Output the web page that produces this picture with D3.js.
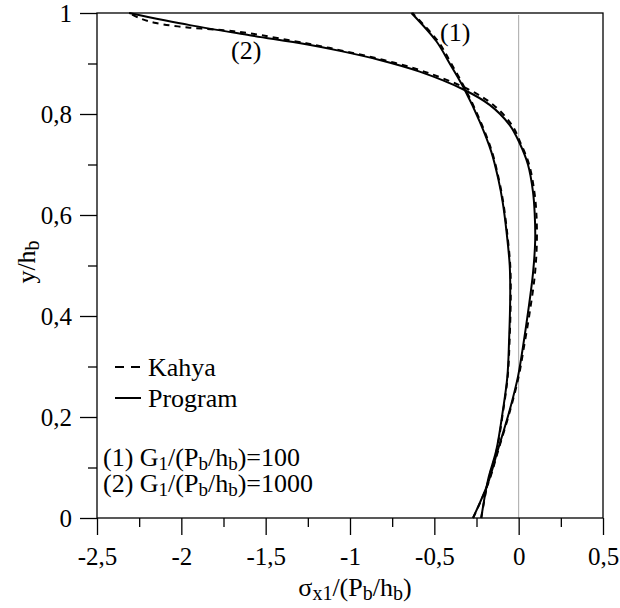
<!DOCTYPE html>
<html>
<head>
<meta charset="utf-8">
<script src="https://cdn.jsdelivr.net/npm/d3@7"></script>
<style>
  body { margin: 0; background: #fff; }
  svg { display: block; font-family: "Liberation Serif", "DejaVu Serif", serif; }
</style>
</head>
<body>
<svg width="620" height="608"></svg>
<script>
// ---- data: [sigma, y/hb] ----
const program1 = [[-0.222, 0], [-0.182, 0.075], [-0.132, 0.135], [-0.093, 0.214], [-0.067, 0.28],
  [-0.057, 0.35], [-0.050, 0.44], [-0.053, 0.50], [-0.073, 0.57], [-0.095, 0.626], [-0.12, 0.67],
  [-0.162, 0.725], [-0.231, 0.785], [-0.32, 0.848], [-0.409, 0.90], [-0.488, 0.944], [-0.636, 1.0]];
const kahya1 = [[-0.222, 0], [-0.180, 0.075], [-0.130, 0.135], [-0.091, 0.214], [-0.065, 0.28],
  [-0.054, 0.35], [-0.047, 0.44], [-0.050, 0.50], [-0.070, 0.57], [-0.092, 0.626], [-0.117, 0.67],
  [-0.158, 0.725], [-0.226, 0.785], [-0.314, 0.848], [-0.400, 0.90], [-0.478, 0.944], [-0.63, 1.0]];
const program2 = [[-0.271, 0], [-0.182, 0.069], [-0.123, 0.135], [-0.053, 0.214], [-0.004, 0.28],
  [0.026, 0.34], [0.055, 0.406], [0.085, 0.485], [0.098, 0.55], [0.095, 0.603], [0.085, 0.646],
  [0.055, 0.70], [0.006, 0.742], [-0.053, 0.778], [-0.172, 0.818], [-0.33, 0.849], [-0.587, 0.884],
  [-0.824, 0.907], [-1.06, 0.925], [-1.26, 0.938], [-1.595, 0.956], [-1.95, 0.976], [-2.31, 1.0]];
const kahya2 = [[-0.27, 0], [-0.18, 0.069], [-0.12, 0.135], [-0.05, 0.214], [0.0, 0.28],
  [0.032, 0.34], [0.065, 0.406], [0.097, 0.485], [0.108, 0.55], [0.105, 0.603], [0.093, 0.646],
  [0.062, 0.70], [0.012, 0.742], [-0.04, 0.778], [-0.15, 0.818], [-0.30, 0.849], [-0.56, 0.884],
  [-0.80, 0.907], [-1.04, 0.925], [-1.26, 0.94], [-1.60, 0.96], [-1.75, 0.966], [-1.95, 0.971],
  [-2.15, 0.98], [-2.25, 0.99], [-2.31, 1.0]];

const xMajor = [-2.5, -2, -1.5, -1, -0.5, 0, 0.5];
const xMinor = [-2.25, -1.75, -1.25, -0.75, -0.25, 0.25];
const yMajor = [0, 0.2, 0.4, 0.6, 0.8, 1];
const yMinor = [0.1, 0.3, 0.5, 0.7, 0.9];

const fmt = d => String(d).replace(".", ",");

const margin = { top: 13, right: 17, bottom: 90, left: 97 };
const width = 620, height = 608;

const x = d3.scaleLinear().domain([-2.5, 0.5]).range([margin.left, width - margin.right]);
const y = d3.scaleLinear().domain([0, 1]).range([height - margin.bottom, margin.top]);

const svg = d3.select("svg");

// zero line
svg.append("line")
  .attr("x1", x(0)).attr("x2", x(0))
  .attr("y1", y(1) + 2).attr("y2", y(0))
  .attr("stroke", "#a8a8a8").attr("stroke-width", 1);

// frame
svg.append("rect")
  .attr("x", x(-2.5)).attr("y", y(1))
  .attr("width", x(0.5) - x(-2.5)).attr("height", y(0) - y(1))
  .attr("fill", "none").attr("stroke", "#000").attr("stroke-width", 1.3);

// axes
const xAxis = g => g
  .attr("transform", `translate(0,${y(0)})`)
  .call(d3.axisBottom(x).tickValues(xMajor).tickSize(17).tickFormat(fmt))
  .call(g => g.select(".domain").remove())
  .call(g => g.selectAll("line").attr("stroke-width", 1.3))
  .call(g => g.selectAll("text").attr("dy", 0).attr("y", 47)
    .attr("font-size", 25).attr("font-family", "Liberation Serif"));

const xAxisMinor = g => g
  .attr("transform", `translate(0,${y(0)})`)
  .call(d3.axisBottom(x).tickValues(xMinor).tickSize(9).tickFormat(""))
  .call(g => g.select(".domain").remove())
  .call(g => g.selectAll("line").attr("stroke-width", 1.3));

const yAxis = g => g
  .attr("transform", `translate(${x(-2.5)},0)`)
  .call(d3.axisLeft(y).tickValues(yMajor).tickSize(17).tickFormat(fmt))
  .call(g => g.select(".domain").remove())
  .call(g => g.selectAll("line").attr("stroke-width", 1.3))
  .call(g => g.selectAll("text").attr("x", -25).attr("dy", "0.32em")
    .attr("font-size", 25).attr("font-family", "Liberation Serif"));

const yAxisMinor = g => g
  .attr("transform", `translate(${x(-2.5)},0)`)
  .call(d3.axisLeft(y).tickValues(yMinor).tickSize(9).tickFormat(""))
  .call(g => g.select(".domain").remove())
  .call(g => g.selectAll("line").attr("stroke-width", 1.3));

svg.append("g").call(xAxis);
svg.append("g").call(xAxisMinor);
svg.append("g").call(yAxis);
svg.append("g").call(yAxisMinor);

// curves
const line = d3.line()
  .x(d => x(d[0]))
  .y(d => y(d[1]))
  .curve(d3.curveCatmullRom.alpha(0.5));

const curves = [
  { data: kahya1, dash: "6,5" },
  { data: kahya2, dash: "6,5" },
  { data: program1, dash: null },
  { data: program2, dash: null }
];

svg.append("g")
  .selectAll("path")
  .data(curves)
  .join("path")
  .attr("d", d => line(d.data))
  .attr("fill", "none")
  .attr("stroke", "#000")
  .attr("stroke-width", 2)
  .attr("stroke-dasharray", d => d.dash);

// curve labels
svg.append("text").attr("x", 440).attr("y", 41).attr("font-size", 26).text("(1)");
svg.append("text").attr("x", 231).attr("y", 59).attr("font-size", 26).text("(2)");

// legend
const legend = svg.append("g");
legend.append("line")
  .attr("x1", 115).attr("x2", 141).attr("y1", 367).attr("y2", 367)
  .attr("stroke", "#000").attr("stroke-width", 2).attr("stroke-dasharray", "9,7");
legend.append("text").attr("x", 148).attr("y", 376).attr("font-size", 26).text("Kahya");
legend.append("line")
  .attr("x1", 115).attr("x2", 141).attr("y1", 398).attr("y2", 398)
  .attr("stroke", "#000").attr("stroke-width", 2);
legend.append("text").attr("x", 148).attr("y", 407).attr("font-size", 26).text("Program");

// text with subscripts: parts = [[string, isSub], ...]
const subText = (t, parts, big, small) => {
  parts.forEach(([s, sub]) => {
    t.append("tspan").attr("font-size", sub ? small : big)
      .attr("baseline-shift", sub ? "-22%" : null).text(s);
  });
};

const note = (yy, lead, val) => {
  const t = svg.append("text").attr("x", 103).attr("y", yy).attr("font-size", 26);
  subText(t, [[lead + " G", 0], ["1", 1], ["/(P", 0], ["b", 1], ["/h", 0], ["b", 1], [")=" + val, 0]], 26, 19);
};
note(466, "(1)", "100");
note(492, "(2)", "1000");

// axis titles
const xt = svg.append("text").attr("x", 355).attr("y", 596)
  .attr("text-anchor", "middle").attr("font-size", 26);
subText(xt, [["σ", 0], ["x1", 1], ["/(P", 0], ["b", 1], ["/h", 0], ["b", 1], [")", 0]], 26, 20);

const yt = svg.append("text")
  .attr("transform", "translate(35,262) rotate(-90)")
  .attr("text-anchor", "middle").attr("font-size", 26);
subText(yt, [["y/h", 0], ["b", 1]], 26, 20);
</script>
</body>
</html>
